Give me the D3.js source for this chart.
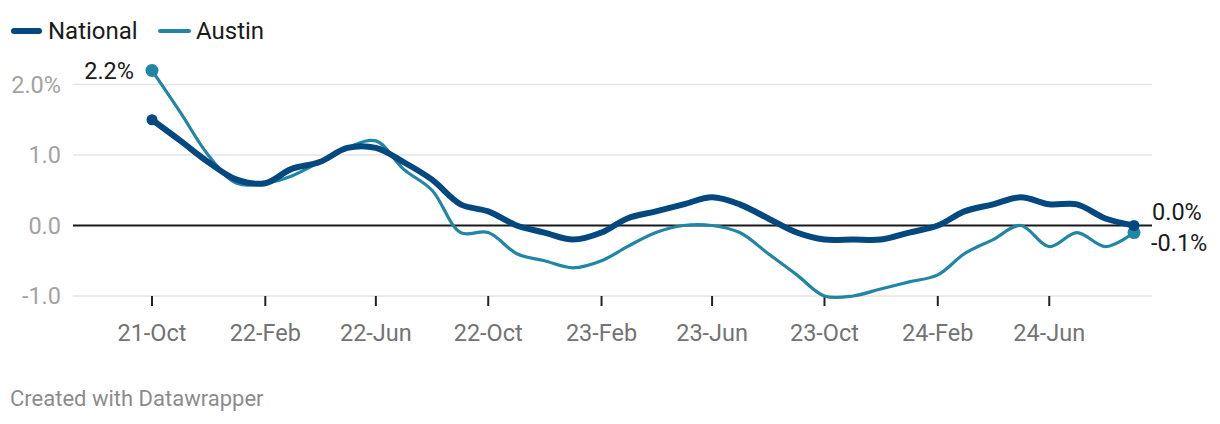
<!DOCTYPE html>
<html><head><meta charset="utf-8">
<script src="https://cdn.jsdelivr.net/npm/d3@7"></script>
<style>
body{margin:0;background:#fff;}
text{font-family:Roboto,"Noto Sans",sans-serif;}
</style></head><body>
<svg id="chart" width="1220" height="424"></svg>
<script>
const startMonth = "2021-10";
const endMonth = "2024-09";
const national = [1.5,1.2,0.9,0.65,0.6,0.8,0.9,1.1,1.1, 0.9,0.65,0.3,0.2,0.0,-0.1,-0.2,-0.1,0.1, 0.2,0.3,0.4,0.3,0.1,-0.1,-0.2,-0.2, -0.2,-0.1,0.0,0.2,0.3,0.4,0.3,0.3,0.1,0.0];
const austin = [2.2,1.6,1.0,0.6,0.6,0.7,0.9,1.1,1.2, 0.8,0.5,-0.1,-0.1,-0.4,-0.5,-0.6,-0.5,-0.3, -0.1,0.0,0.0,-0.1,-0.4,-0.7,-1.0,-1.0, -0.9,-0.8,-0.7,-0.4,-0.2,0.0,-0.3,-0.1,-0.3,-0.1];
const xTicks = ["2021-10","2022-02","2022-06","2022-10","2023-02","2023-06","2023-10","2024-02","2024-06"];
const yTicks = [2, 1, 0, -1];
const seriesNames = ["National","Austin"];
const colors = {National:"#03487f", Austin:"#2186a5"};

const parse = d3.timeParse("%Y-%m");
const months = d3.timeMonth.range(parse(startMonth), d3.timeMonth.offset(parse(endMonth),1));
const svg = d3.select("#chart");

const x = d3.scaleTime().domain([parse(startMonth), parse(endMonth)]).range([152, 1134]);
const y = d3.scaleLinear().domain([-1, 2]).range([296, 84.5]);
const gridL = 73, gridR = 1152;

svg.append("g").selectAll("line").data(yTicks.filter(d=>d!==0)).join("line")
  .attr("x1",gridL).attr("x2",gridR).attr("y1",d=>y(d)).attr("y2",d=>y(d))
  .attr("stroke","#e5e5e5").attr("stroke-width",1.5);
svg.append("g").selectAll("text").data(yTicks).join("text")
  .attr("x",61).attr("y",d=>y(d)).attr("dy","0.36em").attr("text-anchor","end")
  .attr("fill","#a3a3a3").attr("font-size",23.5)
  .text(d=> d3.format(".1f")(d).replace("−","-") + (d===2?"%":""));
const xt = xTicks.map(parse);
svg.append("g").selectAll("line").data(xt).join("line")
  .attr("x1",d=>x(d)).attr("x2",d=>x(d)).attr("y1",296).attr("y2",306)
  .attr("stroke","#222").attr("stroke-width",2);
svg.append("g").selectAll("text").data(xt).join("text")
  .attr("x",d=>x(d)).attr("y",333).attr("dy","0.36em").attr("text-anchor","middle")
  .attr("fill","#737373").attr("font-size",23.5)
  .text(d=>d3.timeFormat("%y-%b")(d));
svg.append("line").attr("x1",gridL).attr("x2",gridR).attr("y1",y(0)).attr("y2",y(0))
  .attr("stroke","#1a1a1a").attr("stroke-width",2);

const line = d3.line().x((d,i)=>x(months[i])).y(d=>y(d)).curve(d3.curveCatmullRom.alpha(0.5));
svg.append("path").attr("d",line(austin)).attr("fill","none").attr("stroke",colors.Austin).attr("stroke-width",3.2).attr("stroke-linejoin","round").attr("stroke-linecap","round");
svg.append("path").attr("d",line(national)).attr("fill","none").attr("stroke",colors.National).attr("stroke-width",6).attr("stroke-linejoin","round").attr("stroke-linecap","round");

const last = months.length-1;
[[austin,colors.Austin,6.5],[national,colors.National,5.5]].forEach(([s,c,r])=>{
  svg.append("circle").attr("cx",x(months[0])).attr("cy",y(s[0])).attr("r",r).attr("fill",c);
  svg.append("circle").attr("cx",x(months[last])).attr("cy",y(s[last])).attr("r",r).attr("fill",c);
});
const fmt = v => d3.format(".1f")(v).replace("−","-")+"%";
svg.append("text").attr("x",134).attr("y",y(austin[0])).attr("dy","0.36em").attr("text-anchor","end")
  .attr("font-size",23.5).attr("fill","#1a1a1a").text(fmt(austin[0]));
svg.append("text").attr("x",1152).attr("y",212).attr("dy","0.36em")
  .attr("font-size",23.5).attr("fill","#1a1a1a").text(fmt(national[last]));
svg.append("text").attr("x",1151).attr("y",243).attr("dy","0.36em")
  .attr("font-size",23.5).attr("fill","#1a1a1a").text(fmt(austin[last]));

const lg = svg.append("g");
lg.append("line").attr("x1",14).attr("x2",39).attr("y1",31).attr("y2",31).attr("stroke",colors.National).attr("stroke-width",6).attr("stroke-linecap","round");
lg.append("text").attr("x",48).attr("y",30).attr("dy","0.36em").attr("font-size",24).attr("fill","#1a1a1a").text(seriesNames[0]);
lg.append("line").attr("x1",160).attr("x2",189).attr("y1",31).attr("y2",31).attr("stroke",colors.Austin).attr("stroke-width",4).attr("stroke-linecap","round");
lg.append("text").attr("x",196).attr("y",30).attr("dy","0.36em").attr("font-size",24).attr("fill","#1a1a1a").text(seriesNames[1]);

svg.append("text").attr("x",10).attr("y",398).attr("dy","0.36em").attr("font-size",22).attr("fill","#8c8c8c").text("Created with Datawrapper");
</script>
</body></html>
